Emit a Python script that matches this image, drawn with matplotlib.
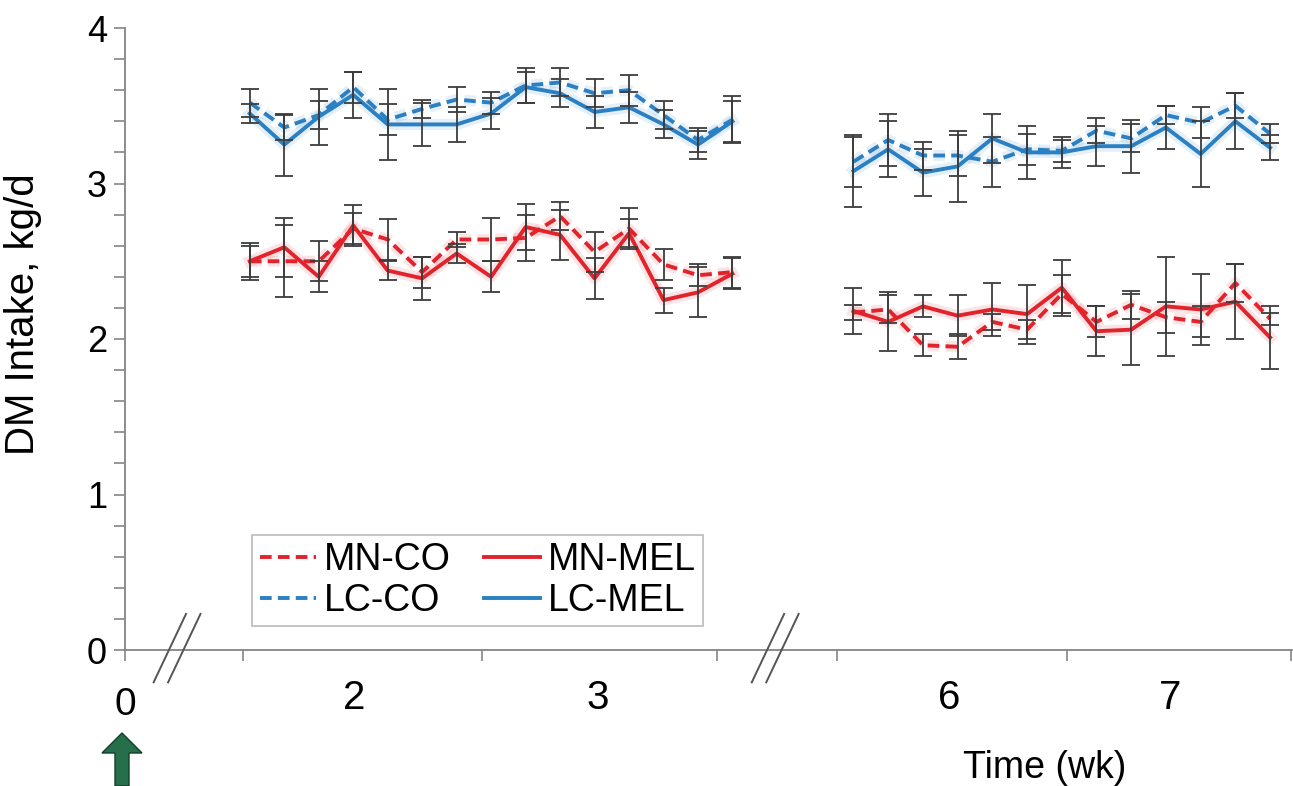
import matplotlib
matplotlib.use('Agg')
import matplotlib.pyplot as plt
import matplotlib.patheffects as pe
from matplotlib.lines import Line2D
from matplotlib.patches import FancyArrow
from matplotlib.ticker import MultipleLocator
import numpy as np

plt.rcParams['font.family'] = ['Liberation Sans', 'DejaVu Sans']

# sampled days, two windows (axis is broken before and between them)
days_a = np.arange(8, 23)    # weeks 2-3
days_b = np.arange(36, 49)   # weeks 6-7

# DM intake, kg/d (mean and SE), window a
lc_co_a      = [3.52, 3.36, 3.44, 3.62, 3.41, 3.48, 3.54, 3.52, 3.63, 3.65, 3.58, 3.60, 3.44, 3.28, 3.41]
lc_co_a_err  = [0.09, 0.08, 0.09, 0.10, 0.10, 0.06, 0.08, 0.07, 0.11, 0.09, 0.09, 0.10, 0.09, 0.08, 0.15]
lc_mel_a     = [3.45, 3.25, 3.43, 3.57, 3.38, 3.38, 3.38, 3.45, 3.62, 3.58, 3.46, 3.49, 3.38, 3.25, 3.40]
lc_mel_a_err = [0.06, 0.20, 0.18, 0.15, 0.23, 0.14, 0.11, 0.10, 0.10, 0.09, 0.10, 0.10, 0.09, 0.09, 0.13]
mn_co_a      = [2.50, 2.50, 2.50, 2.71, 2.64, 2.43, 2.64, 2.64, 2.65, 2.79, 2.56, 2.71, 2.48, 2.41, 2.43]
mn_co_a_err  = [0.10, 0.23, 0.13, 0.10, 0.13, 0.10, 0.05, 0.14, 0.15, 0.09, 0.13, 0.13, 0.10, 0.07, 0.10]
mn_mel_a     = [2.50, 2.59, 2.40, 2.73, 2.44, 2.39, 2.55, 2.40, 2.72, 2.67, 2.39, 2.68, 2.25, 2.30, 2.42]
mn_mel_a_err = [0.12, 0.19, 0.10, 0.13, 0.06, 0.14, 0.06, 0.10, 0.15, 0.16, 0.13, 0.09, 0.08, 0.16, 0.10]

# window b
lc_co_b      = [3.14, 3.28, 3.18, 3.18, 3.14, 3.22, 3.21, 3.34, 3.29, 3.44, 3.39, 3.50, 3.32]
lc_co_b_err  = [0.16, 0.17, 0.09, 0.13, 0.16, 0.10, 0.07, 0.08, 0.09, 0.06, 0.10, 0.08, 0.06]
lc_mel_b     = [3.08, 3.22, 3.07, 3.11, 3.29, 3.20, 3.20, 3.24, 3.24, 3.36, 3.19, 3.40, 3.23]
lc_mel_b_err = [0.23, 0.18, 0.15, 0.23, 0.16, 0.17, 0.10, 0.13, 0.17, 0.14, 0.21, 0.18, 0.08]
mn_co_b      = [2.17, 2.19, 1.96, 1.95, 2.11, 2.06, 2.29, 2.11, 2.22, 2.14, 2.11, 2.36, 2.13]
mn_co_b_err  = [0.05, 0.09, 0.07, 0.08, 0.05, 0.06, 0.12, 0.10, 0.09, 0.10, 0.10, 0.12, 0.04]
mn_mel_b     = [2.18, 2.11, 2.21, 2.15, 2.19, 2.16, 2.33, 2.05, 2.06, 2.21, 2.19, 2.24, 2.01]
mn_mel_b_err = [0.15, 0.19, 0.07, 0.13, 0.17, 0.19, 0.18, 0.16, 0.23, 0.32, 0.23, 0.24, 0.20]

week_labels = ['2', '3', '6', '7']

# broken axis layout (axis units, one unit = one day inside a window)
pos_a = days_a - days_a[0] + 3.62
pos_b = (days_b - days_b[0]) * 1.007 + 21.13
tick_pos = [0, 3.42, 10.35, 17.16, 20.64, 27.33, 33.83]
label_pos = [6.65, 13.72, 23.9, 30.3]
break_pos = [1.51, 18.86]

red = '#e3232b'
blue = '#2a80c2'
grey = '#858585'
dash = (0, (3.0, 1.6))

fig = plt.figure(figsize=(12.93, 7.86), dpi=100)
ax = fig.add_axes([125 / 1293, 136 / 786, 1167 / 1293, 622 / 786])

series = [
    (mn_co_a, mn_co_a_err, mn_co_b, mn_co_b_err, red, dash),
    (mn_mel_a, mn_mel_a_err, mn_mel_b, mn_mel_b_err, red, '-'),
    (lc_co_a, lc_co_a_err, lc_co_b, lc_co_b_err, blue, dash),
    (lc_mel_a, lc_mel_a_err, lc_mel_b, lc_mel_b_err, blue, '-'),
]

for ya, ea, yb, eb, c, ls in series:
    for x, y, e in [(pos_a, ya, ea), (pos_b, yb, eb)]:
        halo = [pe.Stroke(linewidth=8, foreground=c, alpha=0.12), pe.Normal()]
        ax.plot(x, y, color=c, lw=2.8, ls=ls, zorder=2, path_effects=halo)
        ax.errorbar(x, y, yerr=e, fmt='none', ecolor='#3d3d3d', elinewidth=1.3,
                    capsize=6.5, capthick=1.3, zorder=3)

ax.set_xlim(0, 33.85)
ax.set_ylim(0, 4)
for s in ['top', 'right']:
    ax.spines[s].set_visible(False)
for s in ['left', 'bottom']:
    ax.spines[s].set_color(grey)
    ax.spines[s].set_linewidth(1.3)

ax.yaxis.set_major_locator(MultipleLocator(1))
ax.yaxis.set_minor_locator(MultipleLocator(0.2))
ax.tick_params(axis='y', which='both', direction='out', length=8, width=1.2,
               color=grey, labelsize=26, pad=5)
ax.set_xticks(tick_pos)
ax.set_xticklabels([])
ax.tick_params(axis='x', direction='out', length=8, width=1.2, color=grey)

xt = ax.get_xaxis_transform()
ax.text(0, -0.088, '0', transform=xt, ha='center', va='center', fontsize=28)
for p, lab in zip(label_pos, week_labels):
    ax.text(p, -0.077, lab, transform=xt, ha='center', va='center', fontsize=29)

# break marks
for b in break_pos:
    for off in (-0.21, 0.21):
        ax.plot([b + off - 0.47, b + off + 0.47], [-0.052, 0.058], transform=xt,
                color='#555555', lw=1.4, clip_on=False, zorder=4)

ax.set_ylabel('DM Intake, kg/d', fontsize=29)
ax.yaxis.set_label_coords(-0.071, 0.54)

handles = [
    Line2D([], [], color=red, lw=2.8, ls=dash),
    Line2D([], [], color=blue, lw=2.8, ls=dash),
    Line2D([], [], color=red, lw=2.8),
    Line2D([], [], color=blue, lw=2.8),
]
leg = ax.legend(handles, ['MN-CO', 'LC-CO', 'MN-MEL', 'LC-MEL'], ncol=2,
                loc='lower left', bbox_to_anchor=(0.109, 0.038), fontsize=27,
                frameon=True, fancybox=False, borderpad=0.2, labelspacing=0.12,
                handlelength=1.5, handletextpad=0.2, columnspacing=0.9,
                borderaxespad=0)
leg.get_frame().set_edgecolor('#aaaaaa')
leg.get_frame().set_linewidth(1.2)

# overlay in figure pixels for arrow and axis title
ov = fig.add_axes([0, 0, 1, 1], zorder=-1)
ov.set_xlim(0, 1293)
ov.set_ylim(0, 786)
ov.axis('off')
x0 = fig.transFigure.inverted().transform(ax.transData.transform((0, 0)))[0] * 1293 - 3
ov.add_patch(FancyArrow(x0, 0, 0, 53, width=14, head_width=40, head_length=20,
                        length_includes_head=True, fc='#25704a', ec='#123f29', lw=1))
ov.text(1045, 18, 'Time (wk)', ha='center', va='center', fontsize=27)

fig.savefig('out.png', dpi=100)
